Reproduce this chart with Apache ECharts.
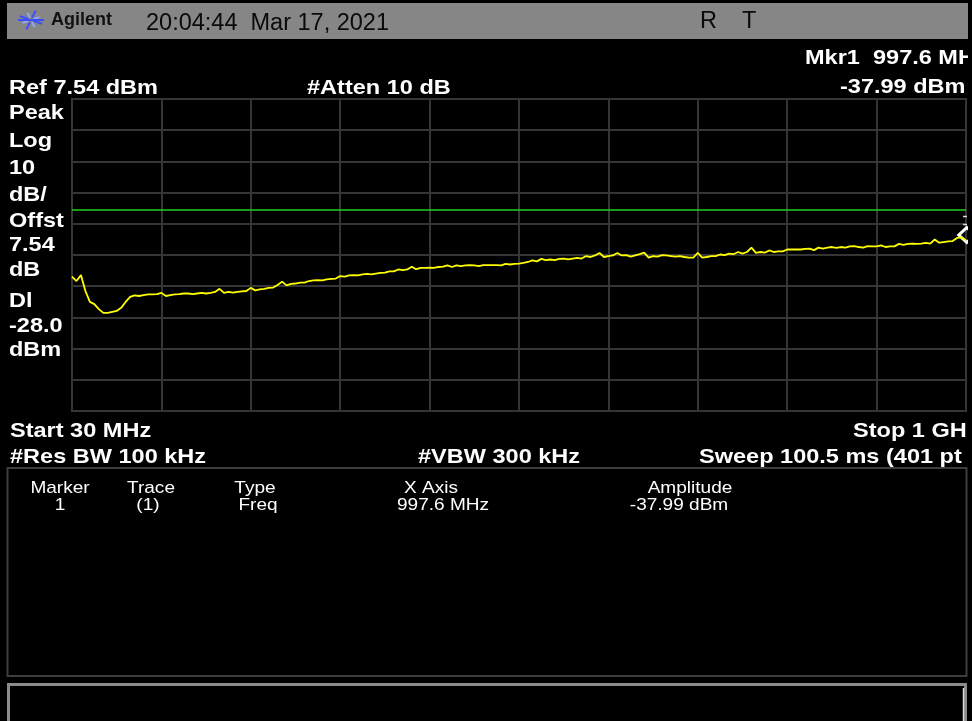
<!DOCTYPE html>
<html><head><meta charset="utf-8">
<script src="https://cdn.jsdelivr.net/npm/echarts@6/dist/echarts.min.js"></script>
<style>html,body{margin:0;padding:0;background:#000;overflow:hidden}#c{width:972px;height:721px}</style>
</head><body><div id="c"></div>
<script>
// ---- instrument settings / values ----
const refLevelDbm = 7.54;
const dbPerDiv = 10;
const numDivs = 10;
const displayLineDbm = -28.0;
const startMHz = 30;
const stopMHz = 1000;
const markerFreqMHz = 997.6;
const markerAmpDbm = -37.99;

// trace amplitudes (dBm), every other sweep point of the 401-point sweep
const traceDbm = [
  -49.4,-50.8,-48.9,-54.0,-57.5,-58.2,-59.8,-61.0,-61.0,-60.7,
  -60.4,-59.4,-57.5,-55.9,-55.4,-55.6,-55.3,-55.1,-55.1,-55.0,
  -54.6,-55.6,-55.3,-55.1,-55.0,-54.8,-54.8,-55.0,-54.8,-54.6,
  -54.8,-54.6,-54.3,-53.3,-54.6,-54.3,-54.5,-54.3,-54.1,-54.0,
  -53.0,-53.8,-53.5,-53.3,-53.0,-52.9,-52.1,-51.0,-52.2,-51.7,
  -51.6,-51.3,-51.3,-50.8,-50.6,-50.5,-50.6,-50.3,-50.1,-50.0,
  -49.2,-49.4,-49.0,-48.9,-49.0,-48.7,-48.5,-48.7,-48.4,-48.2,
  -48.1,-47.7,-47.7,-47.1,-47.3,-47.1,-46.2,-47.0,-46.6,-46.6,
  -46.5,-46.6,-46.3,-46.2,-45.8,-46.3,-45.8,-46.0,-45.8,-45.7,
  -45.8,-46.0,-45.7,-45.7,-45.7,-45.7,-45.8,-45.3,-45.5,-45.3,
  -45.2,-45.0,-44.7,-44.2,-44.5,-43.7,-44.1,-43.9,-44.1,-43.7,
  -43.6,-43.9,-43.6,-43.4,-43.6,-42.8,-43.1,-42.6,-41.8,-43.1,
  -42.8,-42.6,-41.8,-42.6,-42.5,-43.0,-42.6,-42.2,-41.7,-43.3,
  -42.8,-43.0,-42.5,-42.6,-42.8,-43.0,-42.8,-43.1,-43.3,-43.3,
  -41.8,-43.3,-43.1,-42.8,-42.8,-42.3,-42.5,-42.0,-42.2,-41.5,
  -42.0,-41.5,-40.1,-41.8,-41.5,-41.7,-41.0,-41.5,-41.3,-41.3,
  -40.7,-40.7,-40.7,-40.7,-40.5,-40.4,-40.9,-40.1,-40.4,-40.1,
  -39.9,-40.2,-39.9,-40.1,-39.7,-39.6,-39.9,-40.1,-39.6,-39.7,
  -39.7,-39.4,-39.9,-39.7,-39.7,-38.9,-39.2,-38.9,-38.8,-38.9,
  -38.8,-38.6,-38.8,-37.5,-38.5,-38.3,-38.1,-38.0,-37.0,-36.8,
  -37.8
];

// ---- texts ----
const headerDate = '20:04:44  Mar 17, 2021';
const leftLabels = ['Peak','Log','10','dB/','Offst','7.54','dB','Dl','-28.0','dBm'];
const tableHeaders = ['Marker','Trace','Type','X Axis','Amplitude'];
const tableRow = ['1','(1)','Freq','997.6 MHz','-37.99 dBm'];

// ---- build ----
const nPts = traceDbm.length;
const tracePairs = traceDbm.map((v, i) => [startMHz + i * (stopMHz - startMHz) / (nPts - 1), v]);
const bottomDbm = refLevelDbm - dbPerDiv * numDivs;

const FONT = '"Liberation Sans", Arial, Helvetica, sans-serif';
const SX = 1.12;
function txt(text, x, y, size, opts) {
  opts = opts || {};
  const bold = opts.bold === false ? '' : 'bold ';
  return {
    type: 'text', x: x, y: y, scaleX: opts.sx == null ? SX : opts.sx, z: opts.z || 20,
    style: {
      text: text, fill: opts.color || '#fff',
      font: bold + size + 'px ' + FONT,
      align: opts.align || 'left', verticalAlign: 'middle',
      textAlign: opts.align || 'left', textVerticalAlign: 'middle'
    }
  };
}

const g = [];
// header bar
g.push({type:'rect', shape:{x:7, y:3, width:961, height:36}, style:{fill:'#868686'}, z:5});
// Agilent spark logo
const cx = 31, cy = 20;
for (let k = 0; k < 8; k++) {
  const a = k * Math.PI / 4 + Math.PI / 8;
  const r1 = 3, r2 = (k % 2 === 0) ? 12 : 9;
  g.push({type:'line', shape:{x1:cx + r1*Math.cos(a), y1:cy + r1*Math.sin(a)*0.85, x2:cx + r2*Math.cos(a), y2:cy + r2*Math.sin(a)*0.85},
          style:{stroke: k % 2 ? '#8fa8ff' : '#3b4dff', lineWidth:2}, z:6});
}
g.push({type:'line', shape:{x1:cx-13, y1:cy, x2:cx+13, y2:cy}, style:{stroke:'#3b4dff', lineWidth:2}, z:6});
g.push(txt('Agilent', 51, 20, 18, {color:'#111', sx:1.0}));
g.push(txt(headerDate, 146, 24, 23.5, {bold:false, color:'#0a0a0a', sx:1.0}));
g.push(txt('R', 700, 22, 23.5, {bold:false, color:'#0a0a0a', sx:1.0}));
g.push(txt('T', 742, 22, 23.5, {bold:false, color:'#0a0a0a', sx:1.0}));

// annotations above grid
g.push(txt('Mkr1  997.6 MH', 805, 58, 21));
g.push(txt('Ref 7.54 dBm', 9, 88, 21));
g.push(txt('#Atten 10 dB', 307, 88, 21));
g.push(txt('-37.99 dBm', 840, 87, 21));
// left panel labels
const leftY = [113, 141, 168, 195, 221, 245, 270, 301, 326, 350];
leftLabels.forEach((t, i) => g.push(txt(t, 9, leftY[i], 21)));
// below grid
g.push(txt('Start 30 MHz', 10, 431, 21));
g.push(txt('Stop 1 GH', 853, 431, 21));
g.push(txt('#Res BW 100 kHz', 10, 457, 21));
g.push(txt('#VBW 300 kHz', 418, 457, 21));
g.push(txt('Sweep 100.5 ms (401 pt', 699, 457, 21));

// marker table
g.push({type:'rect', shape:{x:7.5, y:468, width:959, height:208}, style:{fill:'none', stroke:'#3e3e3e', lineWidth:2}, z:25});
const headX = [60, 151, 255, 431, 690];
const rowX = [60, 148, 258, 443, 679];
tableHeaders.forEach((t, i) => g.push(txt(t, headX[i], 488, 17, {bold:false, align:'center'})));
tableRow.forEach((t, i) => g.push(txt(t, rowX[i], 505, 17, {bold:false, align:'center'})));

// input box at bottom
g.push({type:'rect', shape:{x:8.5, y:684.5, width:957, height:40}, style:{fill:'#000', stroke:'#8c8c8c', lineWidth:3}, z:15});
g.push({type:'line', shape:{x1:963.5, y1:688, x2:963.5, y2:721}, style:{stroke:'#d8d8d8', lineWidth:1.5}, z:16});

// small ticks at right edge near display line
g.push({type:'line', shape:{x1:963, y1:216.5, x2:967, y2:216.5}, style:{stroke:'#ddd', lineWidth:1.5}, z:16});
g.push({type:'line', shape:{x1:963, y1:224.5, x2:967, y2:224.5}, style:{stroke:'#ddd', lineWidth:1.5}, z:16});

// right clip strip
g.push({type:'rect', shape:{x:968, y:0, width:4, height:721}, style:{fill:'#000'}, z:100});
g.push({type:'rect', shape:{x:0, y:0, width:972, height:3}, style:{fill:'#000'}, z:100});

const gridLine = {show:true, lineStyle:{color:'#353535', width:2}};
const option = {
  backgroundColor: '#000',
  animation: false,
  grid: {left:72, right:6, top:99, bottom:310, show:true, borderColor:'#404040', borderWidth:2, backgroundColor:'transparent'},
  xAxis: [
    {type:'value', min:startMHz, max:stopMHz, show:false},
    {type:'value', min:0, max:numDivs, interval:1, axisLabel:{show:false}, axisTick:{show:false}, axisLine:{show:false}, splitLine:gridLine}
  ],
  yAxis: [
    {type:'value', min:bottomDbm, max:refLevelDbm, show:false},
    {type:'value', min:0, max:numDivs, interval:1, axisLabel:{show:false}, axisTick:{show:false}, axisLine:{show:false}, splitLine:gridLine}
  ],
  series: [{
    type:'line', xAxisIndex:0, yAxisIndex:0, data:tracePairs, showSymbol:false, symbol:'none',
    lineStyle:{color:'#ffff00', width:1.8}, z:5,
    markLine:{silent:true, symbol:'none', label:{show:false},
      lineStyle:{color:'#22d022', width:1.5, type:'solid'},
      data:[{yAxis:displayLineDbm}]},
    markPoint:{silent:true, symbol:'diamond', symbolSize:[16,15], symbolOffset:[3,-6],
      label:{show:false},
      itemStyle:{color:'rgba(0,0,0,0)', borderColor:'#ffffff', borderWidth:3},
      data:[{coord:[markerFreqMHz, markerAmpDbm]}]}
  }],
  graphic: g
};
const chart = echarts.init(document.getElementById('c'), null, {renderer:'canvas'});
chart.setOption(option);
</script>
</body></html>
